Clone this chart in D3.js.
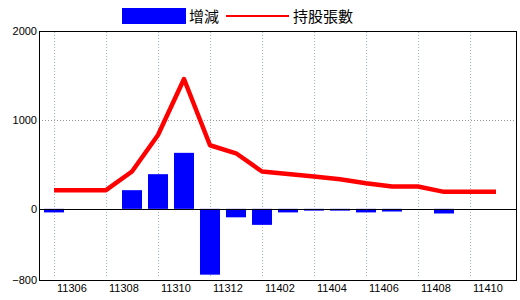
<!DOCTYPE html>
<html>
<head>
<meta charset="utf-8">
<script src="https://cdn.jsdelivr.net/npm/d3@7"></script>
<style>
  body { margin: 0; background: #fff; }
  svg text { font-family: "Liberation Sans", Arial, sans-serif; }
  .legend text { font-family: "Noto Sans CJK TC", sans-serif; }
</style>
</head>
<body>
<div id="chart"></div>
<script>
// months (ROC year + month)
var months = ["11306","11307","11308","11309","11310","11311","11312","11401","11402",
              "11403","11404","11405","11406","11407","11408","11409","11410","11411"];
// monthly change (bars)
var change = [-40, 0, 0, 210, 390, 630, -740, -95, -180, -40, -20, -20, -40, -30, 0, -52, 0, 0];
// holdings (line)
var holding = [210, 210, 210, 420, 830, 1460, 715, 625, 420, 393, 363, 333, 288, 251, 251, 191, 191, 191];
var yTicks = [-800, 0, 1000, 2000];
var xTicks = months.filter(function (d, i) { return i % 2 == 0; });

var svgWidth = 520, svgHeight = 300;
var plotLeft = 39, plotRight = 516, plotTop = 31, plotBottom = 280;

var svg = d3.select("#chart").append("svg")
    .attr("width", svgWidth).attr("height", svgHeight);

var x = d3.scaleBand().domain(months).range([41, 509]).paddingInner(0.23).paddingOuter(0.115);
var y = d3.scaleLinear().domain([-800, 2000]).range([plotBottom, plotTop]);
var cx = function (m) { return x(m) + x.bandwidth() / 2; };

// grid
svg.selectAll(".vgrid").data(xTicks).enter().append("line")
    .attr("class", "vgrid")
    .attr("x1", function (d) { return Math.round(cx(d)) + 0.5; })
    .attr("x2", function (d) { return Math.round(cx(d)) + 0.5; })
    .attr("y1", plotTop + 1).attr("y2", plotBottom - 2)
    .attr("stroke", "#9fb6c8").attr("stroke-dasharray", "1,2");

svg.append("line")
    .attr("x1", plotLeft).attr("x2", plotRight)
    .attr("y1", Math.round(y(1000)) + 0.5).attr("y2", Math.round(y(1000)) + 0.5)
    .attr("stroke", "#999").attr("stroke-dasharray", "1,2");

// bars
svg.selectAll(".bar").data(months).enter().append("rect")
    .attr("class", "bar")
    .attr("x", function (d) { return x(d); })
    .attr("width", x.bandwidth())
    .attr("y", function (d, i) { return y(Math.max(0, change[i])); })
    .attr("height", function (d, i) { return Math.abs(y(change[i]) - y(0)); })
    .attr("fill", "#0000ff");

// zero line
svg.append("line")
    .attr("x1", plotLeft).attr("x2", plotRight)
    .attr("y1", Math.round(y(0)) + 0.5).attr("y2", Math.round(y(0)) + 0.5)
    .attr("stroke", "#000");

// holdings line
var line = d3.line()
    .x(function (d, i) { return cx(months[i]); })
    .y(function (d) { return y(d); });
svg.append("path").datum(holding)
    .attr("d", line)
    .attr("fill", "none")
    .attr("stroke", "#ff0000")
    .attr("stroke-width", 4.5)
    .attr("stroke-linejoin", "round");

// frame
svg.append("rect")
    .attr("x", plotLeft + 0.5).attr("y", plotTop + 0.5)
    .attr("width", plotRight - plotLeft).attr("height", plotBottom - plotTop)
    .attr("fill", "none").attr("stroke", "#000");

// axes
var yAxis = svg.append("g")
    .attr("transform", "translate(" + (plotLeft - 2) + ",0)")
    .call(d3.axisLeft(y).tickValues(yTicks).tickSize(0).tickPadding(0).tickFormat(d3.format("d")));
yAxis.select(".domain").remove();
yAxis.selectAll("text").attr("font-size", "11px").attr("fill", "#000")
    .attr("font-family", "Liberation Sans, Arial, sans-serif");

var xAxis = svg.append("g")
    .attr("transform", "translate(0," + plotBottom + ")")
    .call(d3.axisBottom(x).tickValues(xTicks).tickSize(0).tickPadding(0));
xAxis.select(".domain").remove();
xAxis.selectAll("text")
    .attr("font-size", "11px").attr("fill", "#000")
    .attr("font-family", "Liberation Sans, Arial, sans-serif")
    .attr("text-anchor", "start")
    .attr("x", 3)
    .attr("y", 4);

// legend
var legend = svg.append("g").attr("class", "legend");
legend.append("rect").attr("x", 122).attr("y", 8).attr("width", 64).attr("height", 16).attr("fill", "#0000ff");
legend.append("text").attr("x", 189).attr("y", 22).attr("font-size", "15px").text("增減");
legend.append("line").attr("x1", 226).attr("x2", 289).attr("y1", 16).attr("y2", 16)
    .attr("stroke", "#ff0000").attr("stroke-width", 2);
legend.append("text").attr("x", 293).attr("y", 22).attr("font-size", "15px").text("持股張數");
</script>
</body>
</html>
